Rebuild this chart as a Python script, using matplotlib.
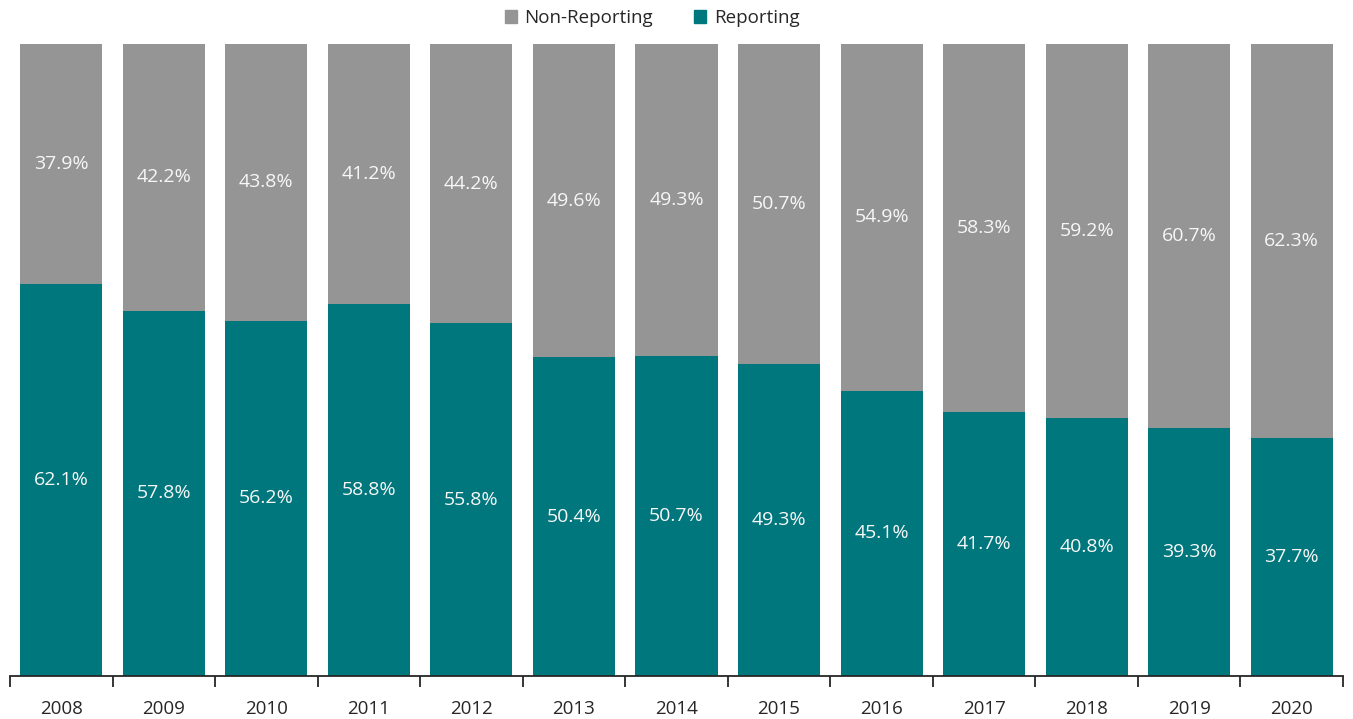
import numpy as np
import matplotlib.pyplot as plt
from matplotlib.patches import Patch

plt.rcParams['font.family'] = ['Open Sans', 'DejaVu Sans']

years = ['2008', '2009', '2010', '2011', '2012', '2013', '2014',
         '2015', '2016', '2017', '2018', '2019', '2020']
reporting = [62.1, 57.8, 56.2, 58.8, 55.8, 50.4, 50.7, 49.3, 45.1, 41.7, 40.8, 39.3, 37.7]
non_reporting = [37.9, 42.2, 43.8, 41.2, 44.2, 49.6, 49.3, 50.7, 54.9, 58.3, 59.2, 60.7, 62.3]

teal = '#00777D'
grey = '#959595'

fig = plt.figure(figsize=(13.53, 7.19), dpi=100)
ax = fig.add_axes([10 / 1353, 1 - 676 / 719, 1333 / 1353, 632 / 719])

x = np.arange(len(years))
rep = np.array(reporting)
non = np.array(non_reporting)
ax.bar(x, rep, width=0.8, color=teal, zorder=2)
ax.bar(x, non, width=0.8, bottom=rep, color=grey, zorder=2)

# value labels in the middle of each segment
for i in range(len(years)):
    ax.text(x[i], rep[i] / 2, f'{rep[i]:.1f}%', ha='center', va='center',
            color='#F7F7F7', fontsize=14)
    ax.text(x[i], rep[i] + non[i] / 2, f'{non[i]:.1f}%', ha='center', va='center',
            color='#F7F7F7', fontsize=14)

ax.set_xlim(-0.5, len(years) - 0.5)
ax.set_ylim(0, 100)
ax.set_yticks([])
ax.set_xticks(x)
ax.set_xticklabels(years, fontsize=13.5, color='#262626')
ax.tick_params(axis='x', which='major', length=0, pad=17)
ax.set_xticks(np.arange(-0.5, len(years), 1), minor=True)
ax.tick_params(axis='x', which='minor', length=8, width=1.3, color='#262626', direction='out')
for side in ['top', 'right', 'left']:
    ax.spines[side].set_visible(False)
ax.spines['bottom'].set_color('#262626')
ax.spines['bottom'].set_linewidth(1.3)

handles = [Patch(color=grey, label='Non-Reporting'), Patch(color=teal, label='Reporting')]
fig.legend(handles=handles, loc='center', bbox_to_anchor=(0.482, 1 - 18 / 719), ncol=2,
           frameon=False, fontsize=13.5, handlelength=0.65, handleheight=0.65,
           handletextpad=0.4, columnspacing=2.2, labelcolor='#262626')

fig.savefig('out.png', dpi=100)
